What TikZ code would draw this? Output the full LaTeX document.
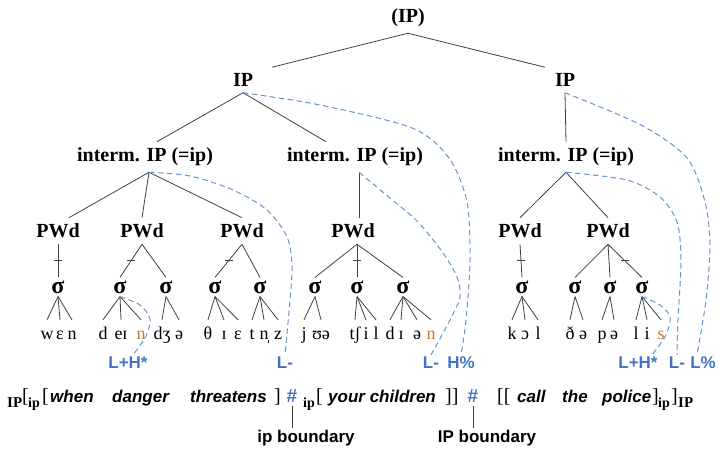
\documentclass[tikz,border=0pt]{standalone}
\usepackage{fontspec}
\setmainfont{Liberation Serif}
\newfontfamily\arialf{Liberation Sans}
\definecolor{linegray}{RGB}{64,64,64}
\definecolor{dashblue}{RGB}{100,148,212}
\definecolor{toneblue}{RGB}{68,114,196}
\definecolor{segorange}{RGB}{200,120,40}
\begin{document}
\begin{tikzpicture}[x=1pt,y=-1pt,
  treelab/.style={font=\bfseries\fontsize{20}{24}\selectfont, inner xsep=2pt, inner ysep=6pt},
  sig/.style={font=\bfseries\fontsize{24}{28}\selectfont, inner sep=3pt},
  seg/.style={font=\fontsize{18}{21}\selectfont, anchor=base, inner xsep=0.5pt, inner ysep=6pt, text height=13pt, text depth=4pt},
  oseg/.style={seg, text=segorange},
  tone/.style={font=\arialf\bfseries\fontsize{17}{20}\selectfont, text=toneblue, inner sep=2pt},
  hash/.style={font=\arialf\bfseries\fontsize{19}{22}\selectfont, text=toneblue, inner sep=3pt},
  blab/.style={font=\arialf\bfseries\fontsize{17}{20}\selectfont, inner sep=2pt},
  sw/.style={font=\arialf\bfseries\itshape\fontsize{17}{20}\selectfont, anchor=base west, inner sep=0pt},
  brk/.style={font=\fontsize{20}{22}\selectfont, anchor=base west, inner sep=0pt},
  subl/.style={font=\bfseries\fontsize{14}{16}\selectfont, anchor=base west, inner sep=0pt},
  subL/.style={font=\bfseries\fontsize{15}{16}\selectfont, anchor=base west, inner sep=0pt},
  tl/.style={draw=linegray, line width=0.8pt},
  dl/.style={draw=dashblue, line width=1pt, dash pattern=on 5.5pt off 3.5pt},
  tk/.style={inner sep=0pt, text=linegray}
]
\useasboundingbox (0,0) rectangle (718,449);

% tree labels
\node[treelab] (top) at (408,18) {(IP)};
\node[treelab] (ipL) at (243,80) {IP};
\node[treelab] (ipR) at (565,80) {IP};
\node[treelab] (imL) at (145,157) {interm. IP (=ip)};
\node[treelab] (imM) at (355,157) {interm. IP (=ip)};
\node[treelab] (imR) at (566,157) {interm. IP (=ip)};
\node[treelab] (pw1) at (58,231) {PWd};
\node[treelab] (pw2) at (142,231) {PWd};
\node[treelab] (pw3) at (242,231) {PWd};
\node[treelab] (pw4) at (353,231) {PWd};
\node[treelab] (pw5) at (520,231) {PWd};
\node[treelab] (pw6) at (608,231) {PWd};

% syllables
\node[sig] (s1) at (58,287) {σ};
\node[sig] (s2) at (120,287) {σ};
\node[sig] (s3) at (166,287) {σ};
\node[sig] (s4) at (215,287) {σ};
\node[sig] (s5) at (260,287) {σ};
\node[sig] (s6) at (315,287) {σ};
\node[sig] (s7) at (357,287) {σ};
\node[sig] (s8) at (403,287) {σ};
\node[sig] (s9) at (522,287) {σ};
\node[sig] (s10) at (575,287) {σ};
\node[sig] (s11) at (610,287) {σ};
\node[sig] (s12) at (642,287) {σ};

% segments
\node[seg] (g1) at (47,339) {w};
\node[seg] (g2) at (60,339) {ɛ};
\node[seg] (g3) at (72,339) {n};
\node[seg] (g4) at (103,339) {d};
\node[seg] (g5) at (121,339) {eɪ};
\node[oseg] (g6) at (141,339) {n};
\node[seg] (g7) at (162,339) {dʒ};
\node[seg] (g8) at (179,339) {ə};
\node[seg] (g9) at (208,339) {θ};
\node[seg] (g10) at (224,339) {ɪ};
\node[seg] (g11) at (238,339) {ɛ};
\node[seg] (g12) at (252,339) {t};
\node[seg] (g13) at (264,339) {n̩};
\node[seg] (g14) at (278,339) {z};
\node[seg] (g15) at (304,339) {j};
\node[seg] (g16) at (321,339) {ʊə};
\node[seg] (g17) at (355,339) {tʃ};
\node[seg] (g18) at (366,339) {i};
\node[seg] (g19) at (376,339) {l};
\node[seg] (g20) at (390,339) {d};
\node[seg] (g21) at (401,339) {ɪ};
\node[seg] (g22) at (417,339) {ə};
\node[oseg] (g23) at (431,339) {n};
\node[seg] (g24) at (512,339) {k};
\node[seg] (g25) at (525,339) {ɔ};
\node[seg] (g26) at (538,339) {l};
\node[seg] (g27) at (570,339) {ð};
\node[seg] (g28) at (583,339) {ə};
\node[seg] (g29) at (602,339) {p};
\node[seg] (g30) at (614,339) {ə};
\node[seg] (g31) at (636,339) {l};
\node[seg] (g32) at (647,339) {i};
\node[oseg] (g33) at (661,339) {s};

% tones
\node[tone] (LH1) at (128,363) {L+H*};
\node[tone] (Lm1) at (285,363) {L-};
\node[tone] (Lm2) at (431,363) {L-};
\node[tone] (Hp) at (461,363) {H\%};
\node[tone] (LH2) at (638,363) {L+H*};
\node[tone] (Lm3) at (677,363) {L-};
\node[tone] (Lp) at (703,363) {L\%};

% sentence row
\node[subL] (a1) at (7,407) {IP};
\node[brk] (a2) at (22,402) {[};
\node[subl] (a3) at (28,407) {ip};
\node[brk] (a4) at (42,402) {[};
\node[sw] (w1) at (50,402) {when};
\node[sw] (w2) at (112,402) {danger};
\node[sw] (w3) at (190,402) {threatens};
\node[brk] (a5) at (274,402) {]};
\node[hash] (h1) at (292,396) {\#};
\node[subl] (a6) at (303,407) {ip};
\node[brk] (a7) at (316,402) {[};
\node[sw] (w4) at (328,402) {your children};
\node[brk] (a8) at (445,402) {]]};
\node[hash] (h2) at (473,396) {\#};
\node[brk] (a9) at (497,402) {[[};
\node[sw] (w5) at (517,402) {call};
\node[sw] (w6) at (562,402) {the};
\node[sw] (w7) at (602,402) {police};
\node[brk] (a10) at (652,402) {]};
\node[subl] (a11) at (658,407) {ip};
\node[brk] (a12) at (671,402) {]};
\node[subL] (a13) at (678,407) {IP};

\node[blab] (lb1) at (306,438) {ip boundary};
\node[blab] (lb2) at (487,438) {IP boundary};
\draw[tl] (h1.south) -- (h1.south |- lb1.north);
\draw[tl] (h2.south) -- (h2.south |- lb2.north);

% tree edges
\draw[tl] (top.south) -- ([xshift=29pt]ipL.north);
\draw[tl] (top.south) -- ([xshift=-20pt]ipR.north);
\draw[tl] (ipL.south) -- ([xshift=12pt]imL.north);
\draw[tl] (ipL.south) -- ([xshift=-29pt]imM.north);
\draw[tl] (ipR.south) -- (imR.north);
\draw[tl] ([xshift=4pt]imL.south) -- ([xshift=11pt]pw1.north);
\draw[tl] ([xshift=4pt]imL.south) -- (pw2.north);
\draw[tl] ([xshift=4pt]imL.south) -- (pw3.north);
\draw[tl] ([xshift=4pt]imM.south) -- ([xshift=4pt]imM.south |- pw4.north);
\draw[tl] (imR.south) -- (pw5.north);
\draw[tl] (imR.south) -- (pw6.north);

% PWd to syllables (with stress ticks)
\draw[tl] (pw1.south) -- node[tk]{\rule[-0.45pt]{8pt}{0.9pt}} (s1.north);
\draw[tl] (pw2.south) -- node[tk]{\rule[-0.45pt]{8pt}{0.9pt}} (s2.north);
\draw[tl] (pw2.south) -- (s3.north);
\draw[tl] (pw3.south) -- node[tk]{\rule[-0.45pt]{8pt}{0.9pt}} (s4.north);
\draw[tl] (pw3.south) -- (s5.north);
\draw[tl] ([xshift=4pt]pw4.south) -- (s6.north);
\draw[tl] ([xshift=4pt]pw4.south) -- node[tk]{\rule[-0.45pt]{8pt}{0.9pt}} (s7.north);
\draw[tl] ([xshift=4pt]pw4.south) -- (s8.north);
\draw[tl] (pw5.south) -- node[tk]{\rule[-0.45pt]{8pt}{0.9pt}} (s9.north);
\draw[tl] (pw6.south) -- (s10.north);
\draw[tl] (pw6.south) -- (s11.north);
\draw[tl] (pw6.south) -- node[tk]{\rule[-0.45pt]{8pt}{0.9pt}} (s12.north);

% syllables to segments
\foreach \s/\g in {s1/g1,s1/g2,s1/g3,s2/g4,s2/g5,s2/g6,s3/g7,s3/g8,
  s4/g9,s4/g10,s4/g11,s5/g12,s5/g13,s5/g14,s6/g15,s6/g16,
  s7/g17,s7/g18,s7/g19,s8/g20,s8/g21,s8/g22,s8/g23,
  s9/g24,s9/g25,s9/g26,s10/g27,s10/g28,s11/g29,s11/g30,
  s12/g31,s12/g32,s12/g33}
  \draw[tl] (\s.south) -- (\g.north);

% dashed tone associations
\draw[dl] plot[smooth] coordinates {(ipL.south) (320,105) (412,128) (449,158) (467,202) (470,260) (466,320) (Hp.north)};
\draw[dl] plot[smooth] coordinates {([xshift=4pt]imL.south) (190,176) (233,190) (267,210) (287,237) (292,265) (290,300) (Lm1.north)};
\draw[dl] plot[smooth] coordinates {([xshift=4pt]imM.south) (390,198) (418,222) (443,253) (457,277) (460,297) (450,320) (Lm2.north)};
\draw[dl] plot[smooth] coordinates {(ipR.south) (641,125) (687,158) (705,202) (710,245) (706,300) ([xshift=-6pt]Lp.north)};
\draw[dl] plot[smooth] coordinates {(imR.south) (627,180) (660,197) (677,222) (681,260) (678,320) (Lm3.north)};
\draw[dl] plot[smooth] coordinates {(s2.south) (140,305) (150,319) (146,336) ([xshift=5pt]LH1.north)};
\draw[dl] plot[smooth] coordinates {(s12.south) (660,305) (670,317) (666,335) ([xshift=14pt]LH2.north)};
\end{tikzpicture}
\end{document}
